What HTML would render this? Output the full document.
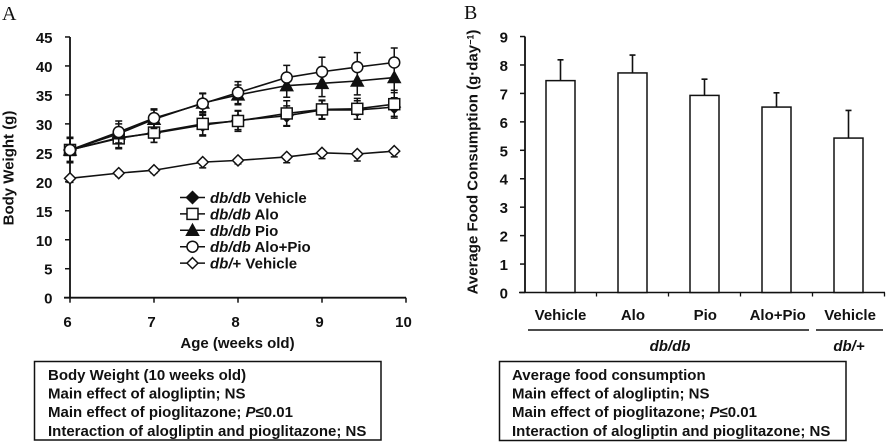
<!DOCTYPE html>
<html>
<head>
<meta charset="utf-8">
<style>
html,body{margin:0;padding:0;background:#fff;width:886px;height:442px;overflow:hidden}
svg{display:block}
text{font-family:"Liberation Sans",sans-serif;font-weight:bold;font-size:15px;fill:#111}
.panel{font-family:"Liberation Serif",serif;font-weight:normal;font-size:20px}
.box{font-size:15px}
.i{font-style:italic}
</style>
</head>
<body>
<svg id="chart" width="886" height="442" viewBox="0 0 886 442" xmlns="http://www.w3.org/2000/svg">
  <text class="panel" x="2" y="20">A</text>
  <text class="panel" x="464" y="19">B</text>
  <text x="237.5" y="348" text-anchor="middle">Age (weeks old)</text>
  <text transform="translate(13.5 168) rotate(-90)" text-anchor="middle">Body Weight (g)</text>
  <text transform="translate(477.5 162) rotate(-90)" text-anchor="middle">Average Food Consumption (g·day<tspan font-size="9" dy="-4">−1</tspan><tspan dy="4">)</tspan></text>

  <g id="axes-a"></g>
  <g id="series-a"></g>
  <g id="legend-a"></g>
  <g id="axes-b"></g>
  <g id="bars-b"></g>

  <line x1="528" x2="809" y1="330" y2="330" stroke="#111" stroke-width="1.5"/>
  <line x1="816" x2="883" y1="330" y2="330" stroke="#111" stroke-width="1.5"/>
  <text class="i" x="670" y="351" text-anchor="middle">db/db</text>
  <text class="i" x="849" y="351" text-anchor="middle">db/+</text>

  <g>
    <rect x="34.5" y="361.5" width="346.5" height="78.5" fill="#fff" stroke="#111" stroke-width="1.5"/>
    <text class="box" x="48" y="380">Body Weight (10 weeks old)</text>
    <text class="box" x="48" y="398.5">Main effect of alogliptin; NS</text>
    <text class="box" x="48" y="417">Main effect of pioglitazone; <tspan class="i">P</tspan>≤0.01</text>
    <text class="box" x="48" y="436">Interaction of alogliptin and pioglitazone; NS</text>
  </g>
  <g>
    <rect x="499.5" y="361.5" width="346.5" height="79" fill="#fff" stroke="#111" stroke-width="1.5"/>
    <text class="box" x="512" y="380">Average food consumption</text>
    <text class="box" x="512" y="398.5">Main effect of alogliptin; NS</text>
    <text class="box" x="512" y="417">Main effect of pioglitazone; <tspan class="i">P</tspan>≤0.01</text>
    <text class="box" x="512" y="436">Interaction of alogliptin and pioglitazone; NS</text>
  </g>
</svg>
<script>
const weeks = [6, 6.58, 7, 7.58, 8, 8.58, 9, 9.42, 9.86];
const vehicleWeight = [25.5, 27.6, 28.4, 29.8, 30.6, 31.4, 32.4, 32.4, 32.9];
const vehicleError = [2.2, 1.7, 1.6, 1.7, 1.6, 1.7, 1.6, 1.6, 1.6];
const aloWeight = [25.5, 27.5, 28.5, 30, 30.5, 31.8, 32.5, 32.6, 33.4];
const aloError = [2.2, 1.8, 1.7, 2.1, 1.8, 2.2, 1.6, 1.8, 2.4];
const pioWeight = [25.5, 28.3, 30.8, 33.6, 35, 36.6, 37, 37.4, 38];
const pioError = [2.0, 1.7, 1.6, 1.6, 1.7, 2.0, 2.3, 2.4, 2.6];
const comboWeight = [25.5, 28.6, 31, 33.5, 35.4, 38, 39, 39.8, 40.6];
const comboError = [2.0, 1.9, 1.6, 1.8, 1.9, 2.1, 2.5, 2.5, 2.5];
const leanWeight = [20.6, 21.5, 22, 23.4, 23.7, 24.3, 25, 24.8, 25.3];
const leanError = [0.7, 0.5, 0.5, 1.0, 0.6, 1.0, 1.0, 1.2, 1.0];
const weightTicks = [0, 5, 10, 15, 20, 25, 30, 35, 40, 45];
const weekTicks = [6, 7, 8, 9, 10];
const seriesNames = ['vehicle', 'alo', 'pio', 'alo-pio', 'lean-vehicle'];
const legendGroups = ['db/db', 'db/db', 'db/db', 'db/db', 'db/'];
const legendSuffixes = [' Vehicle', ' Alo', ' Pio', ' Alo+Pio', '+ Vehicle'];
const foodLabels = ['Vehicle', 'Alo', 'Pio', 'Alo+Pio', 'Vehicle'];
const foodValues = [7.45, 7.72, 6.93, 6.52, 5.43];
const foodErrors = [0.73, 0.63, 0.57, 0.5, 0.97];
const foodTicks = [0, 1, 2, 3, 4, 5, 6, 7, 8, 9];

const NS = 'http://www.w3.org/2000/svg';
const INK = '#111';
function mk(tag, parent, attrs, txt) {
  const el = document.createElementNS(NS, tag);
  for (const k in attrs) el.setAttribute(k, attrs[k]);
  if (txt !== undefined) el.textContent = txt;
  parent.appendChild(el);
  return el;
}
const xA = w => 70 + (w - 6) * 84;
const yA = v => 297.7 - v * 5.794;
const yB = v => 292.5 - v * 28.44;
const xBTick = i => 524.5 + i * 72;
const xBBar = i => 560.5 + i * 72;

function marker(parent, kind, x, y) {
  const style = {stroke: INK, 'stroke-width': 1.5, fill: '#fff'};
  let el;
  if (kind === 'vehicle') {
    el = mk('polygon', parent, Object.assign({}, style, {fill: INK, points: [[x, y - 6], [x + 6, y], [x, y + 6], [x - 6, y]].join(' ')}));
  } else if (kind === 'alo') {
    el = mk('rect', parent, Object.assign({}, style, {x: x - 5.5, y: y - 5.5, width: 11, height: 11}));
  } else if (kind === 'pio') {
    el = mk('polygon', parent, Object.assign({}, style, {fill: INK, points: [[x, y - 6], [x + 6, y + 5], [x - 6, y + 5]].join(' ')}));
  } else if (kind === 'alo-pio') {
    el = mk('circle', parent, Object.assign({}, style, {cx: x, cy: y, r: 5.5}));
  } else {
    el = mk('polygon', parent, Object.assign({}, style, {points: [[x, y - 5.5], [x + 5.5, y], [x, y + 5.5], [x - 5.5, y]].join(' ')}));
  }
  return el;
}

/* panel A axes */
const axA = document.getElementById('axes-a');
const axisYA = mk('line', axA, {x1: xA(6), x2: xA(6), y1: yA(45), y2: yA(0), stroke: INK, 'stroke-width': 1.8});


const axisXA = mk('line', axA, {x1: xA(6) - 6, x2: xA(10), y1: yA(0), y2: yA(0), stroke: INK, 'stroke-width': 1.8});


weightTicks.forEach(t => {
  const tick = mk('line', axA, {x1: xA(6) - 5, x2: xA(6), y1: yA(t), y2: yA(t), stroke: INK, 'stroke-width': 1.5});
  
  
  const label = mk('text', axA, {x: 52.5, y: yA(t) + 6, 'text-anchor': 'end'}, t);
  
  
});
weekTicks.forEach(t => {
  const tick = mk('line', axA, {x1: xA(t), x2: xA(t), y1: yA(0), y2: yA(0) + 5, stroke: INK, 'stroke-width': 1.5});
  
  
  const label = mk('text', axA, {x: xA(t) - 2.5, y: 327, 'text-anchor': 'middle'}, t);
  
  
});

/* panel A series */
const allWeights = [vehicleWeight, aloWeight, pioWeight, comboWeight, leanWeight];
const allErrors = [vehicleError, aloError, pioError, comboError, leanError];
const sA = document.getElementById('series-a');
allWeights.forEach((vals, s) => {
  const g = mk('g', sA, {});
  
  
  const lowerOnly = seriesNames[s] === 'lean-vehicle';
  vals.forEach((v, i) => {
    const x = xA(weeks[i]), e = allErrors[s][i];
    const hi = lowerOnly ? v : v + e;
    const d = 'M' + x + ' ' + yA(hi) + 'V' + yA(v - e) + 'M' + (x - 3.5) + ' ' + yA(v - e) + 'h7' + (lowerOnly ? '' : 'M' + (x - 3.5) + ' ' + yA(hi) + 'h7');
    const bar = mk('path', g, {d: d, stroke: INK, 'stroke-width': 1.5, fill: 'none'});
    
    
  });
  const line = mk('polyline', g, {points: vals.map((v, i) => xA(weeks[i]) + ',' + yA(v)).join(' '), fill: 'none', stroke: INK, 'stroke-width': 1.6});
  
  
  vals.forEach((v, i) => {
    const m = marker(g, seriesNames[s], xA(weeks[i]), yA(v));
    
    
  });
});

/* legend */
const lg = document.getElementById('legend-a');
seriesNames.forEach((n, i) => {
  const y = 197.5 + i * 16.4;
  const g = mk('g', lg, {});
  
  
  mk('line', g, {x1: 180, x2: 205, y1: y, y2: y, stroke: INK, 'stroke-width': 1.5});
  marker(g, n, 192.5, y);
  const t = mk('text', g, {x: 210, y: y + 5.5});
  mk('tspan', t, {'font-style': 'italic'}, legendGroups[i]);
  mk('tspan', t, {}, legendSuffixes[i]);
});

/* panel B axes */
const axB = document.getElementById('axes-b');
const axisYB = mk('line', axB, {x1: 525, x2: 525, y1: yB(9), y2: yB(0), stroke: INK, 'stroke-width': 1.8});


const axisXB = mk('line', axB, {x1: 519, x2: 885, y1: yB(0), y2: yB(0), stroke: INK, 'stroke-width': 1.5});


foodTicks.forEach(t => {
  const tick = mk('line', axB, {x1: 520, x2: 525, y1: yB(t), y2: yB(t), stroke: INK, 'stroke-width': 1.5});
  
  
  const label = mk('text', axB, {x: 508, y: yB(t) + 6, 'text-anchor': 'end'}, t);
  
  
});
foodLabels.forEach((l, i) => {
  const tick = mk('line', axB, {x1: xBTick(i + 1), x2: xBTick(i + 1), y1: yB(0), y2: yB(0) + 4, stroke: INK, 'stroke-width': 1.3});
  
  
  const label = mk('text', axB, {x: xBBar(i) + i * 0.4, y: 320, 'text-anchor': 'middle'}, l);
  
  
});

/* panel B bars */
const bB = document.getElementById('bars-b');
foodValues.forEach((v, i) => {
  const x = xBBar(i), top = yB(v + foodErrors[i]);
  const err = mk('path', bB, {d: 'M' + x + ' ' + top + 'V' + yB(v) + 'M' + (x - 3) + ' ' + top + 'h6', stroke: INK, 'stroke-width': 1.6, fill: 'none'});
  
  
  const bar = mk('rect', bB, {x: x - 14.5, y: yB(v), width: 29, height: yB(0) - yB(v), fill: '#fff', stroke: INK, 'stroke-width': 1.5});
  
  
});
</script>
</body>
</html>
